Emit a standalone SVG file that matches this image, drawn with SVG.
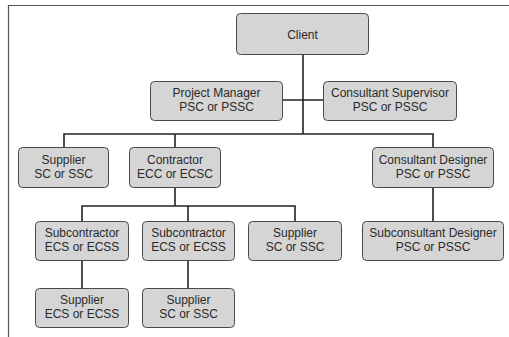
<svg xmlns="http://www.w3.org/2000/svg" width="509" height="337" viewBox="0 0 509 337">
<style>
.box{fill:#d5d5d5;stroke:#4a4a4a;stroke-width:1}
.t{font-family:"Liberation Sans",Arial,sans-serif;font-size:12px;fill:#2a2a2a;text-anchor:middle}
.c{stroke:#222;stroke-width:1.6;fill:none}
</style>
<rect width="509" height="337" fill="#fff"/>
<path d="M8.5 337V5.5H509" fill="none" stroke="#555" stroke-width="1.2"/>
<g id="connectors">
<path class="c" d="M303 54V134"/>
<path class="c" d="M283 100H323"/>
<path class="c" d="M64 147V134H433V147"/>
<path class="c" d="M175 134V147"/>
<path class="c" d="M175 188V206"/>
<path class="c" d="M82 221V206H295V221"/>
<path class="c" d="M188 206V221"/>
<path class="c" d="M433 187V221"/>
<path class="c" d="M82 261V288"/>
<path class="c" d="M188 261V288"/>
</g>
<g id="client"><rect class="box" x="236.5" y="13.5" width="132" height="41" rx="4"/><text class="t" x="302.5" y="39">Client</text></g>
<g id="project-manager"><rect class="box" x="150.5" y="81.5" width="132" height="39" rx="4"/><text class="t" x="216.5" y="97">Project Manager</text><text class="t" x="216.5" y="111">PSC or PSSC</text></g>
<g id="consultant-supervisor"><rect class="box" x="323.5" y="81.5" width="133" height="39" rx="4"/><text class="t" x="390" y="97">Consultant Supervisor</text><text class="t" x="390" y="111">PSC or PSSC</text></g>
<g id="supplier-1"><rect class="box" x="18.5" y="147.5" width="90" height="40" rx="4"/><text class="t" x="63.5" y="164">Supplier</text><text class="t" x="63.5" y="178">SC or SSC</text></g>
<g id="contractor"><rect class="box" x="129.5" y="147.5" width="91" height="40" rx="4"/><text class="t" x="175" y="164">Contractor</text><text class="t" x="175" y="178">ECC or ECSC</text></g>
<g id="consultant-designer"><rect class="box" x="372.5" y="147.5" width="121" height="40" rx="4"/><text class="t" x="433" y="164">Consultant Designer</text><text class="t" x="433" y="178">PSC or PSSC</text></g>
<g id="subcontractor-1"><rect class="box" x="35.5" y="221.5" width="93" height="39" rx="4"/><text class="t" x="82" y="237">Subcontractor</text><text class="t" x="82" y="251">ECS or ECSS</text></g>
<g id="subcontractor-2"><rect class="box" x="142.5" y="221.5" width="92" height="39" rx="4"/><text class="t" x="188.5" y="237">Subcontractor</text><text class="t" x="188.5" y="251">ECS or ECSS</text></g>
<g id="supplier-2"><rect class="box" x="248.5" y="221.5" width="93" height="39" rx="4"/><text class="t" x="295" y="237">Supplier</text><text class="t" x="295" y="251">SC or SSC</text></g>
<g id="subconsultant-designer"><rect class="box" x="362.5" y="221.5" width="141" height="39" rx="4"/><text class="t" x="433" y="237">Subconsultant Designer</text><text class="t" x="433" y="251">PSC or PSSC</text></g>
<g id="supplier-3"><rect class="box" x="35.5" y="288.5" width="93" height="39" rx="4"/><text class="t" x="82" y="304">Supplier</text><text class="t" x="82" y="318">ECS or ECSS</text></g>
<g id="supplier-4"><rect class="box" x="142.5" y="288.5" width="92" height="39" rx="4"/><text class="t" x="188.5" y="304">Supplier</text><text class="t" x="188.5" y="318">SC or SSC</text></g>
</svg>
